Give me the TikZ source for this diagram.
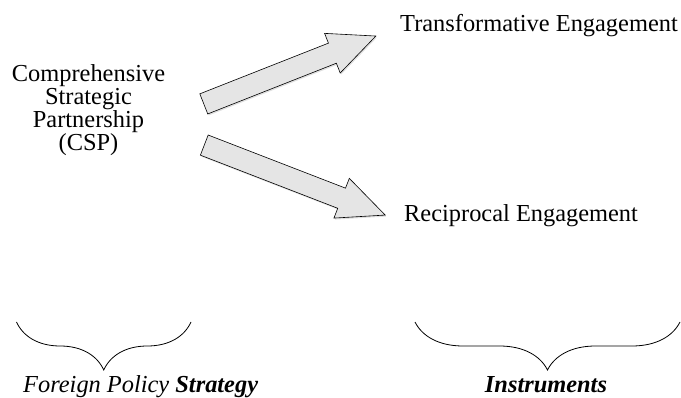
\documentclass[tikz,border=0pt]{standalone}
\usepackage{fontspec}
\setmainfont{Liberation Serif}
\usetikzlibrary{shapes.arrows,shadows,decorations.pathreplacing}

\tikzset{
    flecha/.style={single arrow,draw=black,fill=gray!20,line width=0.6pt,
        inner xsep=0pt,inner ysep=10.5pt,single arrow head extend=10.5pt,
        single arrow tip angle=49,sloped,pos=0,anchor=tail,
        drop shadow={opacity=0.25,shadow xshift=1pt,shadow yshift=-1.5pt}},
    texto/.style={inner sep=0pt,font=\fontsize{24.4}{23}\selectfont},
    llave/.style={decorate,decoration={brace,mirror,amplitude=48pt},line width=0.8pt}
}

\begin{document}
\begin{tikzpicture}[x=1pt,y=-1pt]
\useasboundingbox (0,0) rectangle (681,398);

%Textos
\node[texto,align=center,anchor=base] (csp) at (88.5,151)
    {Comprehensive\\Strategic\\Partnership\\(CSP)};
\node[texto,anchor=base west] (trans) at (400,32) {Transformative Engagement};
\node[texto,anchor=base west] (recip) at (404,222) {Reciprocal Engagement};

%Flechas
\coordinate (a1) at (203.5,104);
\coordinate (b1) at (376,36);
\coordinate (a2) at (204,145);
\coordinate (b2) at (385,215);
\path (a1) -- node[flecha,minimum height=185pt] (f1) {} (b1);
\path (a2) -- node[flecha,minimum height=194pt] (f2) {} (b2);

%Llaves
\draw[llave] (16.5,322) -- coordinate[midway] (m1) (191,322);
\draw[llave] (415,322) -- coordinate[midway] (m2) (680,322);
\node[texto,font=\fontsize{24.4}{23}\selectfont\itshape,anchor=base west] (fps) at (23,392)
    {Foreign Policy \textbf{Strategy}};
\node[texto,font=\fontsize{24.4}{23}\selectfont\bfseries\itshape,anchor=base] (instr) at (546,392)
    {Instruments};
\end{tikzpicture}
\end{document}
